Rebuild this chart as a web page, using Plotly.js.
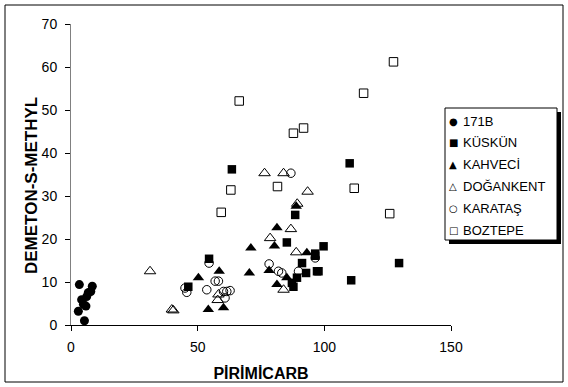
<!DOCTYPE html>
<html>
<head>
<meta charset="utf-8">
<script src="https://cdn.plot.ly/plotly-3.0.1.min.js"></script>
<style>html,body{margin:0;padding:0;background:#fff;}#chart{width:568px;height:387px;}</style>
</head>
<body>
<div id="chart"></div>
<script>
// ---- data (PİRİMİCARB on x, DEMETON-S-METHYL on y) ----
var seriesNames = ["171B", "KÜSKÜN", "KAHVECİ", "DOĞANKENT", "KARATAŞ", "BOZTEPE"];

var x171B = [3.3, 8.4, 7.8, 6.8, 4.2, 4.9, 5.9, 2.9, 5.3, 6.2];
var y171B = [9.4, 9.0, 7.8, 7.5, 5.9, 4.8, 4.4, 3.2, 1.0, 6.6];

var xKuskun = [63.5, 110.0, 54.5, 46.3, 85.2, 88.5, 96.4, 91.2, 92.8, 97.1, 89.2, 87.2, 87.8, 99.7, 96.4, 129.5, 97.7, 110.6];
var yKuskun = [36.2, 37.6, 15.4, 8.9, 19.2, 25.6, 16.6, 14.4, 12.1, 12.5, 11.0, 9.8, 8.9, 18.3, 16.1, 14.4, 12.5, 10.4];

var xKahveci = [58.5, 50.3, 60.2, 54.2, 71.0, 70.4, 78.2, 80.3, 93.1, 85.2, 81.3, 88.9, 81.3];
var yKahveci = [12.5, 11.0, 4.0, 3.6, 17.9, 12.1, 12.7, 18.4, 16.8, 11.0, 9.4, 27.6, 22.6];

var xDogankent = [31.2, 39.8, 40.4, 58.2, 57.9, 78.6, 88.9, 83.9, 76.4, 83.9, 93.4, 86.8, 89.3];
var yDogankent = [12.5, 3.6, 3.4, 7.1, 5.8, 20.2, 16.9, 8.2, 35.3, 35.3, 31.0, 22.3, 28.2];

var xKaratas = [54.5, 56.9, 58.2, 45.0, 45.7, 53.6, 60.2, 61.5, 62.8, 60.8, 78.2, 81.9, 83.2, 89.8, 86.8, 96.4];
var yKaratas = [14.4, 10.2, 10.2, 8.6, 7.6, 8.2, 7.8, 7.8, 8.0, 6.3, 14.2, 12.5, 12.1, 12.5, 35.3, 15.6];

var xBoztepe = [127.3, 115.5, 66.4, 87.8, 91.8, 63.1, 81.5, 59.3, 111.8, 125.8];
var yBoztepe = [61.2, 53.9, 52.1, 44.6, 45.8, 31.4, 32.2, 26.2, 31.8, 25.9];

var xTicks = [0, 50, 100, 150];
var yTicks = [0, 10, 20, 30, 40, 50, 60, 70];

var xTitle = 'PİRİMİCARB';
var yTitle = 'DEMETON-S-METHYL';

// ---- styles ----
var symbols = ['circle', 'square', 'triangle-up', 'triangle-up-open', 'circle-open', 'square-open'];
var sizes = [9, 8.5, 10, 10, 8.5, 8.5];
var legendGlyphs = ['\u25CF', '\u25A0', '\u25B2', '\u25B3', '\u25CB', '\u25A1'];

var xs = [x171B, xKuskun, xKahveci, xDogankent, xKaratas, xBoztepe];
var ys = [y171B, yKuskun, yKahveci, yDogankent, yKaratas, yBoztepe];

var traces = seriesNames.map(function (name, i) {
  var open = symbols[i].indexOf('open') >= 0;
  return {
    type: 'scatter', mode: 'markers', name: name, x: xs[i], y: ys[i],
    marker: {symbol: symbols[i], size: sizes[i], color: '#000',
             line: {color: '#000', width: open ? 1 : 0}},
    cliponaxis: false, showlegend: false
  };
});

var M = {l: 71, r: 117, t: 24, b: 62, autoexpand: false};
var W = 568, H = 387;
var pw = W - M.l - M.r, ph = H - M.t - M.b;
function pxX(x) { return (x - M.l) / pw; }
function pxY(y) { return 1 - (y - M.t) / ph; }

var FONT = 'Liberation Sans, Arial, sans-serif';

// ---- Excel-style legend (box + shadow + text entries) ----
var LG = {left: 445, right: 557, top: 108, bottom: 240, first: 121, step: 21.8, symX: 453, textX: 461, shadow: 4};
var shapes = [
  {type: 'rect', xref: 'paper', yref: 'paper',
   x0: pxX(5), x1: pxX(563), y0: pxY(382), y1: pxY(5),
   line: {color: '#000', width: 1}, fillcolor: 'rgba(0,0,0,0)', layer: 'below'},
  {type: 'rect', xref: 'paper', yref: 'paper',
   x0: pxX(LG.left + LG.shadow), x1: pxX(LG.right + LG.shadow),
   y0: pxY(LG.bottom + LG.shadow), y1: pxY(LG.top + LG.shadow),
   line: {width: 0}, fillcolor: '#000', layer: 'above'},
  {type: 'rect', xref: 'paper', yref: 'paper',
   x0: pxX(LG.left), x1: pxX(LG.right), y0: pxY(LG.bottom), y1: pxY(LG.top),
   line: {color: '#000', width: 1}, fillcolor: '#fff', layer: 'above'}
];
var annotations = [];
seriesNames.forEach(function (name, i) {
  var yy = pxY(LG.first + i * LG.step);
  annotations.push({xref: 'paper', yref: 'paper', x: pxX(LG.symX), y: yy,
    xanchor: 'center', yanchor: 'middle', showarrow: false, text: legendGlyphs[i],
    font: {family: 'DejaVu Sans, sans-serif', size: 10, color: '#000'}});
  annotations.push({xref: 'paper', yref: 'paper', x: pxX(LG.textX), y: yy,
    xanchor: 'left', yanchor: 'middle', showarrow: false, text: name,
    font: {family: FONT, size: 13, color: '#000'}});
});
// y-axis title (placed like the original, slightly below the plot centre)
annotations.push({xref: 'paper', yref: 'paper', x: pxX(31), y: pxY(186),
  xanchor: 'center', yanchor: 'middle', showarrow: false, textangle: -90,
  text: '<b>' + yTitle + '</b>', font: {family: FONT, size: 17, color: '#000'}});

var layout = {
  width: W, height: H,
  margin: M,
  paper_bgcolor: '#fff', plot_bgcolor: '#fff',
  font: {family: FONT, color: '#000', size: 14},
  showlegend: false,
  xaxis: {
    range: [0, 150], tickvals: xTicks, ticktext: xTicks.map(String),
    showgrid: false, zeroline: false,
    showline: true, linecolor: '#000', linewidth: 1,
    ticks: 'outside', ticklen: 5, tickcolor: '#000', tickwidth: 1,
    ticklabelstandoff: 4,
    tickfont: {size: 14},
    title: {text: xTitle, font: {size: 16, family: FONT, weight: 'bold'}, standoff: 14}
  },
  yaxis: {
    range: [0, 70], tickvals: yTicks, ticktext: yTicks.map(String),
    showgrid: false, zeroline: false,
    showline: true, linecolor: '#808080', linewidth: 1,
    ticks: 'outside', ticklen: 5, tickcolor: '#000', tickwidth: 1,
    ticklabelstandoff: 5,
    tickfont: {size: 14}
  },
  shapes: shapes,
  annotations: annotations
};

Plotly.newPlot(document.getElementById('chart'), traces, layout, {staticPlot: true, displayModeBar: false});
</script>
</body>
</html>
